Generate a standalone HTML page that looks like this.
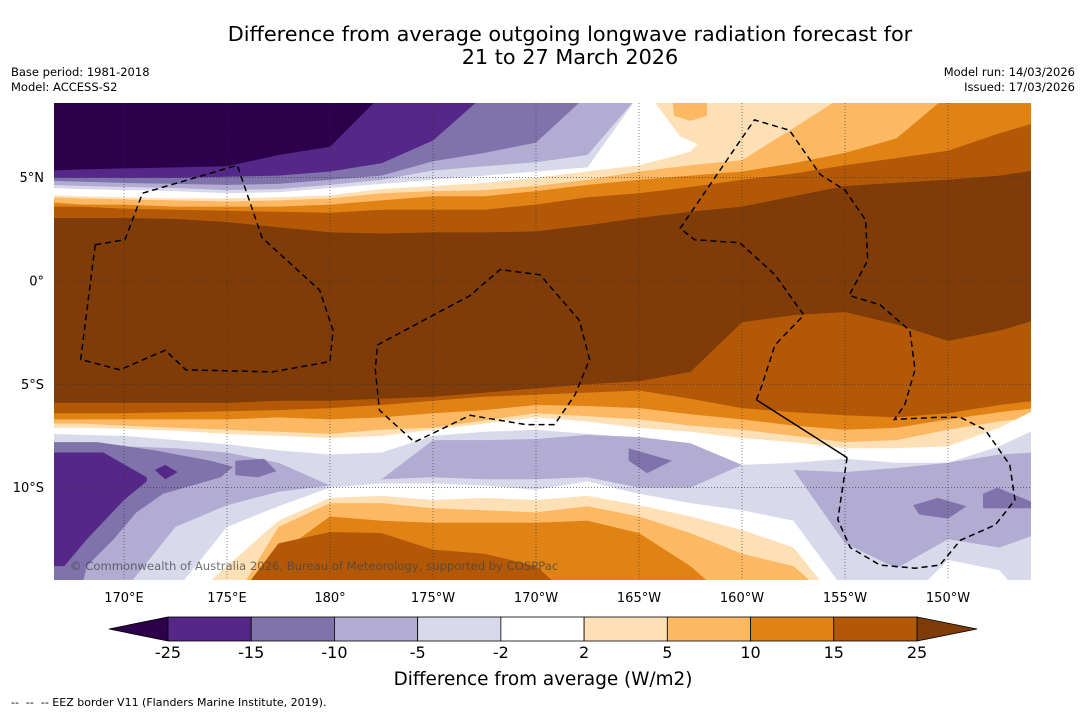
<!DOCTYPE html>
<html><head><meta charset="utf-8"><style>
html,body{margin:0;padding:0;background:#fff;}
svg{display:block;font-family:"DejaVu Sans","Liberation Sans",sans-serif;}
</style></head><body>
<svg id="chart" width="1085" height="713" viewBox="0 0 1085 713">
<text x="570" y="41" font-size="20.8" text-anchor="middle">Difference from average outgoing longwave radiation forecast for</text>
<text x="570" y="64" font-size="20.8" text-anchor="middle">21 to 27 March 2026</text>
<text x="11" y="76" font-size="11.5">Base period: 1981-2018</text>
<text x="11" y="91" font-size="11.5">Model: ACCESS-S2</text>
<text x="1075" y="76" font-size="11.5" text-anchor="end">Model run: 14/03/2026</text>
<text x="1075" y="91" font-size="11.5" text-anchor="end">Issued: 17/03/2026</text>
<defs><clipPath id="mapclip"><rect x="54" y="103" width="977" height="477"/></clipPath></defs>
<g id="map" clip-path="url(#mapclip)"></g>
<g id="axes"></g>
<g id="cbar"></g>
<text x="543" y="685" font-size="18.4" text-anchor="middle">Difference from average (W/m2)</text>
<text x="11" y="706" font-size="11" xml:space="preserve" style="white-space:pre">--  --  -- EEZ border V11 (Flanders Marine Institute, 2019).</text>
</svg>
<script>
const lons=[166.5,168,170,172.5,175,177.5,180,182.5,185,187.5,190,192.5,195,197.5,200,202.5,205,207.5,210,212.5,214.2];
// northern contour boundaries (lat of lower edge of each band)
const N1=[5.35,5.4,5.45,5.5,5.55,6.1,6.5,9,9,9,9,9,9,9,9,9,9,9,9,9,9];
const N2=[5.0,5.0,5.0,5.0,5.05,5.1,5.3,5.7,6.8,9,9,9,9,9,9,9,9,9,9,9,9];
const N3=[4.85,4.8,4.75,4.7,4.65,4.7,4.9,5.1,5.8,6.2,6.7,9,9,9,9,9,9,9,9,9,9];
const N4=[4.65,4.6,4.55,4.5,4.4,4.45,4.65,4.9,5.35,5.55,5.75,6.1,9,9,9,9,9,9,9,9,9];
const N5=[4.5,4.45,4.4,4.35,4.25,4.3,4.5,4.7,4.9,5.1,5.3,5.5,9,9,9,9,9,9,9,9,9];
const N6=[4.15,4.1,4.05,4.0,4.0,4.05,4.15,4.45,4.6,4.75,5.0,5.3,5.6,6.25,9,9,9,9,9,9,9];
const N7=[4.05,4.0,3.95,3.9,3.85,3.9,4.0,4.25,4.35,4.4,4.6,4.9,5.3,5.6,5.85,7.4,9,9,9,9,9];
const N8=[3.8,3.7,3.7,3.6,3.6,3.6,3.7,3.9,4.1,4.1,4.35,4.65,4.9,5.1,5.3,5.7,6.2,6.9,9,9,9];
const N9=[3.6,3.6,3.5,3.45,3.4,3.35,3.3,3.45,3.45,3.45,3.7,4.05,4.25,4.55,4.9,5.2,5.6,5.95,6.3,7.15,7.65];
const N10=[3.05,3.05,3.05,3.0,2.85,2.6,2.35,2.3,2.35,2.35,2.4,2.7,3.05,3.35,3.6,4.1,4.6,4.75,4.9,5.1,5.35];
// southern contour boundaries (lat of upper edge of each band)
const S1=[-5.9,-5.9,-5.9,-5.9,-5.9,-5.8,-5.8,-5.7,-5.6,-5.4,-5.2,-5.0,-4.85,-4.4,-2.0,-1.65,-1.5,-2.1,-2.9,-2.4,-1.9];
const S2=[-6.4,-6.4,-6.4,-6.35,-6.3,-6.25,-6.15,-6.0,-5.8,-5.6,-5.5,-5.4,-5.3,-5.7,-6.15,-6.35,-6.5,-6.6,-6.4,-6.0,-5.8];
const S3=[-6.7,-6.7,-6.7,-6.7,-6.7,-6.6,-6.7,-6.6,-6.4,-6.25,-6.0,-6.05,-6.15,-6.45,-6.7,-7.0,-7.2,-7.1,-6.7,-6.35,-6.15];
const S4=[-6.9,-6.9,-7.0,-7.1,-7.2,-7.3,-7.4,-7.2,-7.1,-6.75,-6.4,-6.55,-6.7,-7.0,-7.2,-7.5,-7.8,-7.7,-7.2,-6.8,-6.6];
const S5=[-7.1,-7.1,-7.15,-7.25,-7.4,-7.5,-7.6,-7.5,-7.2,-6.9,-6.6,-6.8,-7.1,-7.3,-7.6,-7.8,-8.1,-8.1,-8.0,-7.1,-6.25];
const S6=[-7.4,-7.45,-7.5,-7.7,-7.9,-8.2,-8.4,-8.3,-7.5,-7.3,-7.2,-7.4,-7.6,-8.2,-8.9,-8.8,-8.6,-8.8,-8.8,-8.0,-7.2];
const S7=[-7.9,-7.9,-8.0,-8.1,-8.3,-8.8,-9.9,-9.6,-7.7,-7.7,-7.65,-7.45,-7.55,-7.85,-8.9,-9.15,-9.25,-9.05,-8.8,-8.4,-8.3];
// lower (far south) boundaries, top edge of bands rising again
const L1=[-16,-16,-15.0,-11.9,-10.85,-10.2,-9.9,-9.6,-9.5,-9.6,-9.6,-9.5,-10.0,-10.0,-8.9,-9.15,-12.7,-13.9,-12.5,-12.9,-12.3];
const L2=[-16,-16,-16,-15.0,-11.9,-10.9,-10.0,-9.8,-9.8,-9.9,-10.1,-9.7,-10.3,-10.75,-11.1,-11.6,-15.0,-16,-13.5,-14.0,-16];
const L3=[-16,-16,-16,-16,-13.8,-11.6,-10.5,-10.4,-10.6,-10.5,-10.6,-10.4,-10.85,-11.4,-12.05,-12.9,-16,-16,-16,-16,-16];
const L4=[-16,-16,-16,-16,-16,-11.9,-10.75,-10.75,-11.0,-11.1,-11.2,-10.9,-11.4,-12.2,-13.2,-13.8,-16,-16,-16,-16,-16];
const L5=[-16,-16,-16,-16,-16,-13.2,-11.4,-11.6,-11.7,-11.7,-11.7,-11.6,-12.2,-13.8,-16,-16,-16,-16,-16,-16,-16];
const L6=[-16,-16,-16,-16,-16,-12.7,-12.15,-12.2,-13.0,-13.2,-13.8,-16,-16,-16,-16,-16,-16,-16,-16,-16,-16];
// anomaly blobs [lon,lat]
const blobWedgeLight=[[195.5,9],[197.0,7.0],[198.1,6.5],[200,6.35],[200,9]];
const blobTopOrange=[[196.6,9],[198.3,9],[198.3,8.0],[197.5,7.75],[196.7,8.0]];
const blobWest10=[[166.5,-7.8],[168.7,-7.8],[171.5,-8.2],[174.2,-8.7],[175.3,-9.0],[174.7,-9.5],[171.9,-10.3],[170.6,-11.2],[169.5,-12.5],[168.2,-13.8],[167.9,-15],[166.5,-15]];
const blobWest15=[[166.5,-8.3],[169.0,-8.3],[171.1,-9.5],[171.1,-9.7],[170,-10.6],[168.2,-12.5],[167.1,-13.8],[166.5,-13.8]];
const blobDiamond15=[[171.5,-9.15],[172.0,-8.9],[172.6,-9.25],[172.0,-9.6]];
const blobA10=[[175.4,-8.7],[176.8,-8.6],[177.4,-9.2],[176.5,-9.5],[175.4,-9.4]];
const blobB10=[[194.5,-8.1],[196.6,-8.7],[195.4,-9.3],[194.5,-8.7]];
const blobC10=[[208.3,-10.85],[209.5,-10.5],[210.9,-10.9],[210.0,-11.5],[208.6,-11.3]];
const blobD10=[[211.7,-10.3],[212.4,-10.0],[214.2,-10.75],[214.2,-11.0],[211.7,-11.0]];
// EEZ borders [lon,lat]
const eezWest=[[168.6,1.75],[170.05,2.0],[170.9,4.25],[175.5,5.6],[176.7,2.1],[179.5,-0.45],[180.15,-2.4],[180.0,-3.9],[177.2,-4.4],[173.0,-4.3],[172.0,-3.35],[169.8,-4.3],[167.9,-3.8],[168.6,1.75]];
const eezPhoenix=[[182.3,-3.1],[186.8,-0.7],[188.25,0.55],[190.2,0.3],[192.1,-1.9],[192.6,-3.8],[191.9,-5.5],[190.9,-6.95],[189.5,-6.95],[186.8,-6.5],[184.1,-7.8],[182.4,-6.25],[182.2,-4.3],[182.3,-3.1]];
const eezLine=[[200.7,-5.75],[200.9,-5.25],[201.6,-3.1],[203.0,-1.65],[201.6,0.3],[199.9,1.85],[197.7,2.0],[197.0,2.55],[200.6,7.8],[202.3,7.3],[203.8,5.15],[205.0,4.4],[206.0,2.95],[206.1,1.0],[205.2,-0.7],[206.7,-1.15],[208.15,-2.4],[208.4,-4.3],[207.9,-6.0],[207.4,-6.7],[209.4,-6.6],[210.6,-6.6],[211.8,-7.2],[213.0,-8.9],[213.25,-10.6],[212.3,-11.8],[210.6,-12.55],[209.6,-13.75],[208.4,-13.9],[206.7,-13.75],[205.25,-12.9],[204.65,-11.55],[205.1,-8.55]];
const eezSolid=[[200.7,-5.75],[205.1,-8.55]];
// axes & colorbar
const lonTicks=[170,175,180,185,190,195,200,205,210];
const lonTickLabels=["170°E","175°E","180°","175°W","170°W","165°W","160°W","155°W","150°W"];
const latTicks=[5,0,-5,-10];
const latTickLabels=["5°N","0°","5°S","10°S"];
const cbarLevels=["-25","-15","-10","-5","-2","2","5","10","15","25"];
const cbarColors=["#542788","#8073ac","#b2abd2","#d8daeb","#ffffff","#fee0b6","#fdb863","#e08214","#b35806"];

const NS="http://www.w3.org/2000/svg";
const xs=lon=>124+(lon-170)*20.6;
const ys=lat=>281-lat*20.66;
function mk(tag,attrs,parent){const e=document.createElementNS(NS,tag);for(const k in attrs)e.setAttribute(k,attrs[k]);parent.appendChild(e);return e;}
const map=document.getElementById('map');
const pstr=pts=>pts.map(p=>p[0].toFixed(1)+','+p[1].toFixed(1)).join(' ');
function topBand(arr,color,name){
  const pts=lons.map((l,i)=>[xs(l),ys(arr[i])]);
  pts.push([xs(lons[lons.length-1]),ys(10)],[xs(lons[0]),ys(10)]);
  const e=mk('polygon',{points:pstr(pts),fill:color},map);
  
  
}
function botBand(arr,color,name){
  const pts=lons.map((l,i)=>[xs(l),ys(arr[i])]);
  pts.push([xs(lons[lons.length-1]),ys(-17)],[xs(lons[0]),ys(-17)]);
  const e=mk('polygon',{points:pstr(pts),fill:color},map);
  
  
}
function blob(arr,color,name){
  const e=mk('polygon',{points:pstr(arr.map(p=>[xs(p[0]),ys(p[1])])),fill:color},map);
  
  
}
const bg=mk('rect',{x:54,y:103,width:977,height:477,fill:'#7f3b08'},map);


topBand(N10,'#b35806','north-band-15-25');
topBand(N9,'#e08214','north-band-10-15');
topBand(N8,'#fdb863','north-band-5-10');
topBand(N7,'#fee0b6','north-band-2-5');
topBand(N6,'#ffffff','north-band-neutral');
topBand(N5,'#d8daeb','north-band-minus5-minus2');
topBand(N4,'#b2abd2','north-band-minus10-minus5');
topBand(N3,'#8073ac','north-band-minus15-minus10');
topBand(N2,'#542788','north-band-minus25-minus15');
topBand(N1,'#2d004b','north-band-below-minus25');
blob(blobWedgeLight,'#fee0b6','north-light-orange-wedge');
blob(blobTopOrange,'#fdb863','north-orange-blob');
botBand(S1,'#b35806','south-band-15-25');
botBand(S2,'#e08214','south-band-10-15');
botBand(S3,'#fdb863','south-band-5-10');
botBand(S4,'#fee0b6','south-band-2-5');
botBand(S5,'#ffffff','south-band-neutral');
botBand(S6,'#d8daeb','south-band-minus5-minus2');
botBand(S7,'#b2abd2','south-band-minus10-minus5');
blob(blobWest10,'#8073ac','southwest-purple-region');
blob(blobA10,'#8073ac','purple-blob-a');
blob(blobB10,'#8073ac','purple-blob-b');
blob(blobC10,'#8073ac','purple-blob-c');
blob(blobD10,'#8073ac','purple-blob-d');
blob(blobWest15,'#542788','southwest-deep-purple-region');
blob(blobDiamond15,'#542788','deep-purple-diamond');
botBand(L1,'#d8daeb','far-south-band-minus5-minus2');
botBand(L2,'#ffffff','far-south-band-neutral');
botBand(L3,'#fee0b6','far-south-band-2-5');
botBand(L4,'#fdb863','far-south-band-5-10');
botBand(L5,'#e08214','far-south-band-10-15');
botBand(L6,'#b35806','far-south-band-15-25');
// gridlines
lonTicks.forEach((l,i)=>{
  const g=mk('line',{x1:xs(l),x2:xs(l),y1:103,y2:580,stroke:'#333','stroke-width':0.6,'stroke-dasharray':'1,2'},map);
  
  
});
latTicks.forEach((l,i)=>{
  const g=mk('line',{x1:54,x2:1031,y1:ys(l),y2:ys(l),stroke:'#333','stroke-width':0.6,'stroke-dasharray':'1,2'},map);
  
  
});
// EEZ
[[eezWest,'eez-border-tuvalu'],[eezPhoenix,'eez-border-phoenix'],[eezLine,'eez-border-line-islands']].forEach(([arr,name])=>{
  const e=mk('polyline',{points:pstr(arr.map(p=>[xs(p[0]),ys(p[1])])),fill:'none',stroke:'#000','stroke-width':1.5,'stroke-dasharray':'6,4'},map);
  
  
});
const sl=mk('polyline',{points:pstr(eezSolid.map(p=>[xs(p[0]),ys(p[1])])),fill:'none',stroke:'#000','stroke-width':1.5},map);


const cp=mk('text',{x:70,y:570,'font-size':11.6,fill:'#444','fill-opacity':0.75},map);
cp.textContent='© Commonwealth of Australia 2026, Bureau of Meteorology, supported by COSPPac';


// axes labels
const axes=document.getElementById('axes');
lonTicks.forEach((l,i)=>{
  const t=mk('text',{x:xs(l),y:602,'font-size':13,'text-anchor':'middle'},axes);
  t.textContent=lonTickLabels[i];
  
  
});
latTicks.forEach((l,i)=>{
  const t=mk('text',{x:44,y:ys(l)+4.5,'font-size':13,'text-anchor':'end'},axes);
  t.textContent=latTickLabels[i];
  
  
});
// colorbar
const cb=document.getElementById('cbar');
const x0=168,x1=917,cy0=617,cy1=641,bw=(x1-x0)/cbarColors.length;
const lt=mk('polygon',{points:`109,629 ${x0},${cy0} ${x0},${cy1}`,fill:'#2d004b',stroke:'#000','stroke-width':0.8},cb);


const rt=mk('polygon',{points:`977,629 ${x1},${cy0} ${x1},${cy1}`,fill:'#7f3b08',stroke:'#000','stroke-width':0.8},cb);


cbarColors.forEach((c,i)=>{
  const r=mk('rect',{x:x0+i*bw,y:cy0,width:bw,height:cy1-cy0,fill:c,stroke:'#000','stroke-width':0.8},cb);
  
  
});
cbarLevels.forEach((v,i)=>{
  const t=mk('text',{x:x0+i*bw,y:658,'font-size':16,'text-anchor':'middle'},cb);
  t.textContent=v;
  
  
});
</script>
</body></html>
